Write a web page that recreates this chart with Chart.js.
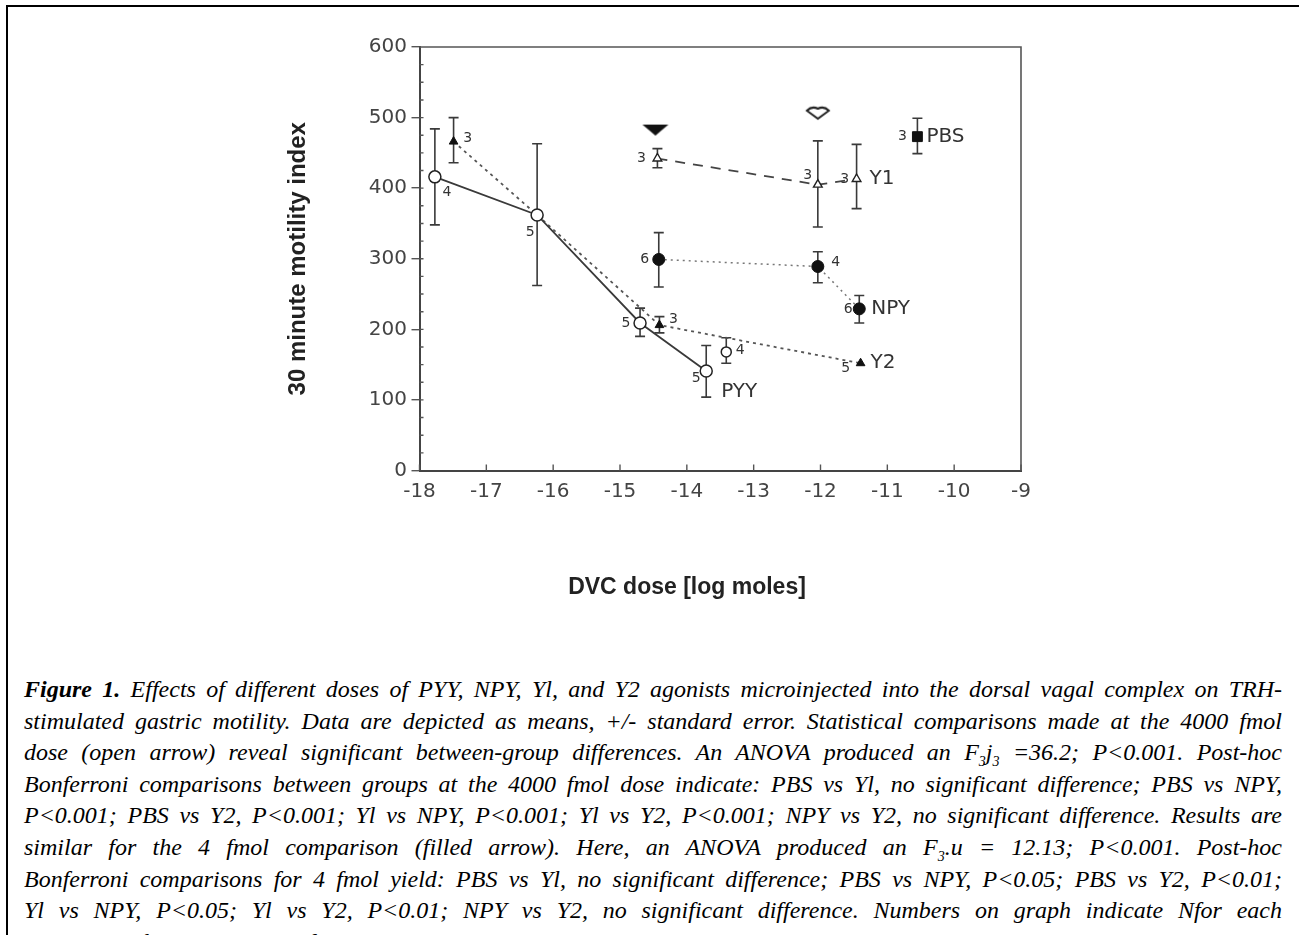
<!DOCTYPE html>
<html><head><meta charset="utf-8">
<script src="https://cdn.jsdelivr.net/npm/chart.js@4.4.0/dist/chart.umd.min.js"></script>
<style>
html,body{margin:0;padding:0;background:#fff;width:1299px;height:935px;overflow:hidden;}
#frame{position:absolute;left:6px;top:5px;width:1400px;height:1200px;border-left:2px solid #000;border-top:2px solid #000;}
#wrap{position:absolute;left:220px;top:20px;width:880px;height:620px;}
#caption{position:absolute;left:24px;top:674px;width:1258px;font-family:'Liberation Serif','Times New Roman',serif;font-style:italic;font-size:24px;line-height:31.6px;color:#000;}
#caption div{text-align:justify;text-align-last:justify;white-space:nowrap;height:31.6px;}
#caption div.last{text-align-last:left;}
#caption sub{font-size:14px;line-height:0;}
</style></head><body>
<div id="frame"></div>
<div id="wrap"><canvas id="c" width="880" height="620"></canvas></div>
<div id="caption">
<div><b>Figure 1.</b> Effects of different doses of PYY, NPY, Yl, and Y2 agonists microinjected into the dorsal vagal complex on TRH-</div>
<div>stimulated gastric motility. Data are depicted as means, +/- standard error. Statistical comparisons made at the 4000 fmol</div>
<div>dose (open arrow) reveal significant between-group differences. An ANOVA produced an F<sub>3</sub>j<sub>3</sub> =36.2; P&lt;0.001. Post-hoc</div>
<div>Bonferroni comparisons between groups at the 4000 fmol dose indicate: PBS vs Yl, no significant difference; PBS vs NPY,</div>
<div>P&lt;0.001; PBS vs Y2, P&lt;0.001; Yl vs NPY, P&lt;0.001; Yl vs Y2, P&lt;0.001; NPY vs Y2, no significant difference. Results are</div>
<div>similar for the 4 fmol comparison (filled arrow). Here, an ANOVA produced an F<sub>3</sub>.u = 12.13; P&lt;0.001. Post-hoc</div>
<div>Bonferroni comparisons for 4 fmol yield: PBS vs Yl, no significant difference; PBS vs NPY, P&lt;0.05; PBS vs Y2, P&lt;0.01;</div>
<div>Yl vs NPY, P&lt;0.05; Yl vs Y2, P&lt;0.01; NPY vs Y2, no significant difference. Numbers on graph indicate Nfor each</div>
<div class="last">experimental group. From Ref 48.</div>
</div>
<script>
// ---------------- data ----------------
const xTickLabels = ['-18','-17','-16','-15','-14','-13','-12','-11','-10','-9'];
const yTickLabels = ['0','100','200','300','400','500','600'];

const pyyDose = [-17.77, -16.24, -14.70, -13.71];
const pyyMean = [416, 362, 209, 141];
const pyyHigh = [484, 463, 230, 177];
const pyyLow  = [348, 262, 190, 104];
const pyyN    = ['4', '5', '5', '5'];

const y2Dose = [-17.49, -16.24, -14.41, -11.40];
const y2Mean = [466, 362, 206, 152];
const y2High = [500, null, 218, null];
const y2Low  = [436, null, 195, null];
const y2N    = ['3', '', '3', '5'];

const extraDose = [-13.41];
const extraMean = [168];
const extraHigh = [188];
const extraLow  = [152];
const extraN    = ['4'];

const y1Dose = [-14.44, -12.04, -11.46];
const y1Mean = [442, 405, 413];
const y1High = [456, 467, 462];
const y1Low  = [429, 345, 371];
const y1N    = ['3', '3', '3'];

const npyDose = [-14.42, -12.04, -11.42];
const npyMean = [299, 289, 229];
const npyHigh = [337, 310, 248];
const npyLow  = [260, 266, 209];
const npyN    = ['6', '4', '6'];

const pbsDose = [-10.55];
const pbsMean = [473];
const pbsHigh = [499];
const pbsLow  = [449];
const pbsN    = ['3'];

const arrowDose  = [-14.47, -12.04];
const arrowLevel = [483, 507];

// ---------------- styling (label offsets in px) ----------------
const nOffsets = {
  PYY: [[12,15],[-7,17],[-14,0],[-10,7]],
  Y2: [[14,-3],null,[14,-6],[-15,5]],
  extra: [[14,-2]],
  Y1: [[-16,0],[-10,-9],[-12,0]],
  NPY: [[-14,0],[18,-4],[-11,0]],
  PBS: [[-15,0]]
};
const nameOffsets = { PYY:[15,21], Y2:[10,0], Y1:[13,0], NPY:[12,0], PBS:[9,0] };

function pts(xs, ys){ return xs.map((v,i)=>({x:v, y:ys[i]})); }

function arrowImg(filled){
  const c = document.createElement('canvas');
  c.width = 30; c.height = 16;
  const g = c.getContext('2d');
  g.beginPath();
  if (filled){
    g.moveTo(2,3); g.lineTo(28,3); g.lineTo(22,8); g.lineTo(15,14); g.lineTo(8,8); g.closePath();
    g.fillStyle='#111'; g.fill();
  } else {
    g.moveTo(4,6); g.quadraticCurveTo(9,1,15,4); g.quadraticCurveTo(21,1,26,6);
    g.lineTo(15,14); g.closePath();
    g.fillStyle='#fff'; g.fill(); g.strokeStyle='#222'; g.lineWidth=2; g.stroke();
  }
  return c;
}

const TICKFONT = '"DejaVu Sans", sans-serif';

const annot = {
  id: 'annot',
  beforeDatasetsDraw(chart){
    const {ctx, scales:{x, y}} = chart;
    ctx.save();
    ctx.strokeStyle = '#3a3a3a'; ctx.lineWidth = 1.6;
    chart.data.datasets.forEach(ds => {
      if (!ds.errHigh) return;
      ds.data.forEach((p, i) => {
        const hi = ds.errHigh[i], lo = ds.errLow[i];
        if (hi == null) return;
        const px = x.getPixelForValue(p.x), ph = y.getPixelForValue(hi), pl = y.getPixelForValue(lo);
        ctx.beginPath();
        ctx.moveTo(px, ph); ctx.lineTo(px, pl);
        ctx.moveTo(px-5, ph); ctx.lineTo(px+5, ph);
        ctx.moveTo(px-5, pl); ctx.lineTo(px+5, pl);
        ctx.stroke();
      });
    });
    ctx.restore();
  },
  afterDatasetsDraw(chart){
    const {ctx, scales:{x, y}} = chart;
    ctx.save();
    ctx.fillStyle = '#333';
    ctx.textBaseline = 'middle';
    chart.data.datasets.forEach(ds => {
      if (!ds.nLabels) return;
      ctx.font = '14px ' + TICKFONT;
      ctx.textAlign = 'center';
      ds.data.forEach((p, i) => {
        const off = ds.nOff[i];
        if (!off || !ds.nLabels[i]) return;
        ctx.fillText(ds.nLabels[i], x.getPixelForValue(p.x) + off[0], y.getPixelForValue(p.y) + off[1]);
      });
      if (ds.nameOff){
        const p = ds.data[ds.data.length-1];
        ctx.font = '20px ' + TICKFONT;
        ctx.textAlign = 'left';
        ctx.fillText(ds.label, x.getPixelForValue(p.x) + ds.nameOff[0], y.getPixelForValue(p.y) + ds.nameOff[1]);
      }
    });
    ctx.restore();
  },
  afterDraw(chart){
    const {ctx, chartArea:a, scales:{x, y}} = chart;
    ctx.save();
    ctx.strokeStyle = '#555'; ctx.lineWidth = 1.6;
    ctx.beginPath();
    ctx.moveTo(a.left, a.top); ctx.lineTo(a.right, a.top); ctx.lineTo(a.right, a.bottom);
    ctx.stroke();
    ctx.strokeStyle = '#555'; ctx.lineWidth = 1.4;
    ctx.beginPath();
    for (let v = x.min; v <= x.max; v++){
      const px = x.getPixelForValue(v);
      ctx.moveTo(px, a.bottom); ctx.lineTo(px, a.bottom - 6);
    }
    for (let v = 25; v < y.max; v += 25){
      const py = y.getPixelForValue(v);
      ctx.moveTo(a.left, py); ctx.lineTo(a.left + 4, py);
    }
    ctx.stroke();
    ctx.fillStyle = '#222';
    ctx.font = 'bold 23px "Liberation Sans", Arial, sans-serif';
    ctx.textAlign = 'center'; ctx.textBaseline = 'middle';
    ctx.fillText('DVC dose [log moles]', a.left + 267.5, a.bottom + 117.5);
    ctx.restore();
  }
};

const lineCol = '#3a3a3a';
const datasets = [
  { label:'PYY', data: pts(pyyDose, pyyMean), errHigh: pyyHigh, errLow: pyyLow, nLabels: pyyN, nOff: nOffsets.PYY, nameOff: nameOffsets.PYY,
    showLine:true, borderColor:lineCol, borderWidth:1.8, pointStyle:'circle', pointRadius:6, pointBackgroundColor:'#fff', pointBorderColor:'#222', pointBorderWidth:1.5 },
  { label:'Y2', data: pts(y2Dose, y2Mean), errHigh: y2High, errLow: y2Low, nLabels: y2N, nOff: nOffsets.Y2, nameOff: nameOffsets.Y2,
    showLine:true, borderColor:'#555', borderWidth:1.8, borderDash:[3,4], pointStyle:'triangle', pointRadius:[5,0,5,5], pointBackgroundColor:'#111', pointBorderColor:'#111', pointBorderWidth:1 },
  { label:'extra', data: pts(extraDose, extraMean), errHigh: extraHigh, errLow: extraLow, nLabels: extraN, nOff: nOffsets.extra,
    showLine:false, pointStyle:'circle', pointRadius:5, pointBackgroundColor:'#fff', pointBorderColor:'#222', pointBorderWidth:1.5 },
  { label:'Y1', data: pts(y1Dose, y1Mean), errHigh: y1High, errLow: y1Low, nLabels: y1N, nOff: nOffsets.Y1, nameOff: nameOffsets.Y1,
    showLine:true, borderColor:'#444', borderWidth:1.8, borderDash:[10,8], pointStyle:'triangle', pointRadius:5, pointBackgroundColor:'#fff', pointBorderColor:'#222', pointBorderWidth:1.4 },
  { label:'NPY', data: pts(npyDose, npyMean), errHigh: npyHigh, errLow: npyLow, nLabels: npyN, nOff: nOffsets.NPY, nameOff: nameOffsets.NPY,
    showLine:true, borderColor:'#777', borderWidth:1.5, borderDash:[2,4], pointStyle:'circle', pointRadius:6, pointBackgroundColor:'#111', pointBorderColor:'#111', pointBorderWidth:1 },
  { label:'PBS', data: pts(pbsDose, pbsMean), errHigh: pbsHigh, errLow: pbsLow, nLabels: pbsN, nOff: nOffsets.PBS, nameOff: nameOffsets.PBS,
    showLine:false, pointStyle:'rect', pointRadius:7, pointBackgroundColor:'#111', pointBorderColor:'#111', pointBorderWidth:1 },
  { label:'arrows', data: pts(arrowDose, arrowLevel), showLine:false,
    pointStyle:[arrowImg(true), arrowImg(false)], pointRadius:8 }
];

new Chart(document.getElementById('c'), {
  type: 'scatter',
  data: { datasets },
  options: {
    responsive: false,
    animation: false,
    devicePixelRatio: 1,
    layout: { padding: { top: 27, right: 79, bottom: 19.5, left: 0 } },
    plugins: { legend: { display:false }, tooltip: { enabled:false } },
    scales: {
      x: {
        type: 'linear', min: -18, max: -9,
        afterFit(s){ s.height = 150; },
        border: { display:true, color:'#444', width:2 },
        grid: { display:false, drawTicks:false },
        ticks: { stepSize:1, padding:9.5, color:'#444', font:{ family:TICKFONT, size:20 },
                 callback:(v,i)=> xTickLabels[i] }
      },
      y: {
        min: 0, max: 600,
        afterFit(s){ s.width = 199.5; },
        border: { display:true, color:'#444', width:2 },
        grid: { drawOnChartArea:false, drawTicks:true, tickLength:8, color:'#555', lineWidth:1.4 },
        ticks: { stepSize:100, padding:4.5, color:'#444', font:{ family:TICKFONT, size:20 },
                 callback:(v,i)=> yTickLabels[i] },
        title: { display:true, text:'30 minute motility index', color:'#222',
                 font:{ family:'"Liberation Sans", Arial, sans-serif', size:24, weight:'bold' },
                 padding:{ top:64, bottom:0 } }
      }
    }
  },
  plugins: [annot]
});
</script>
</body></html>
